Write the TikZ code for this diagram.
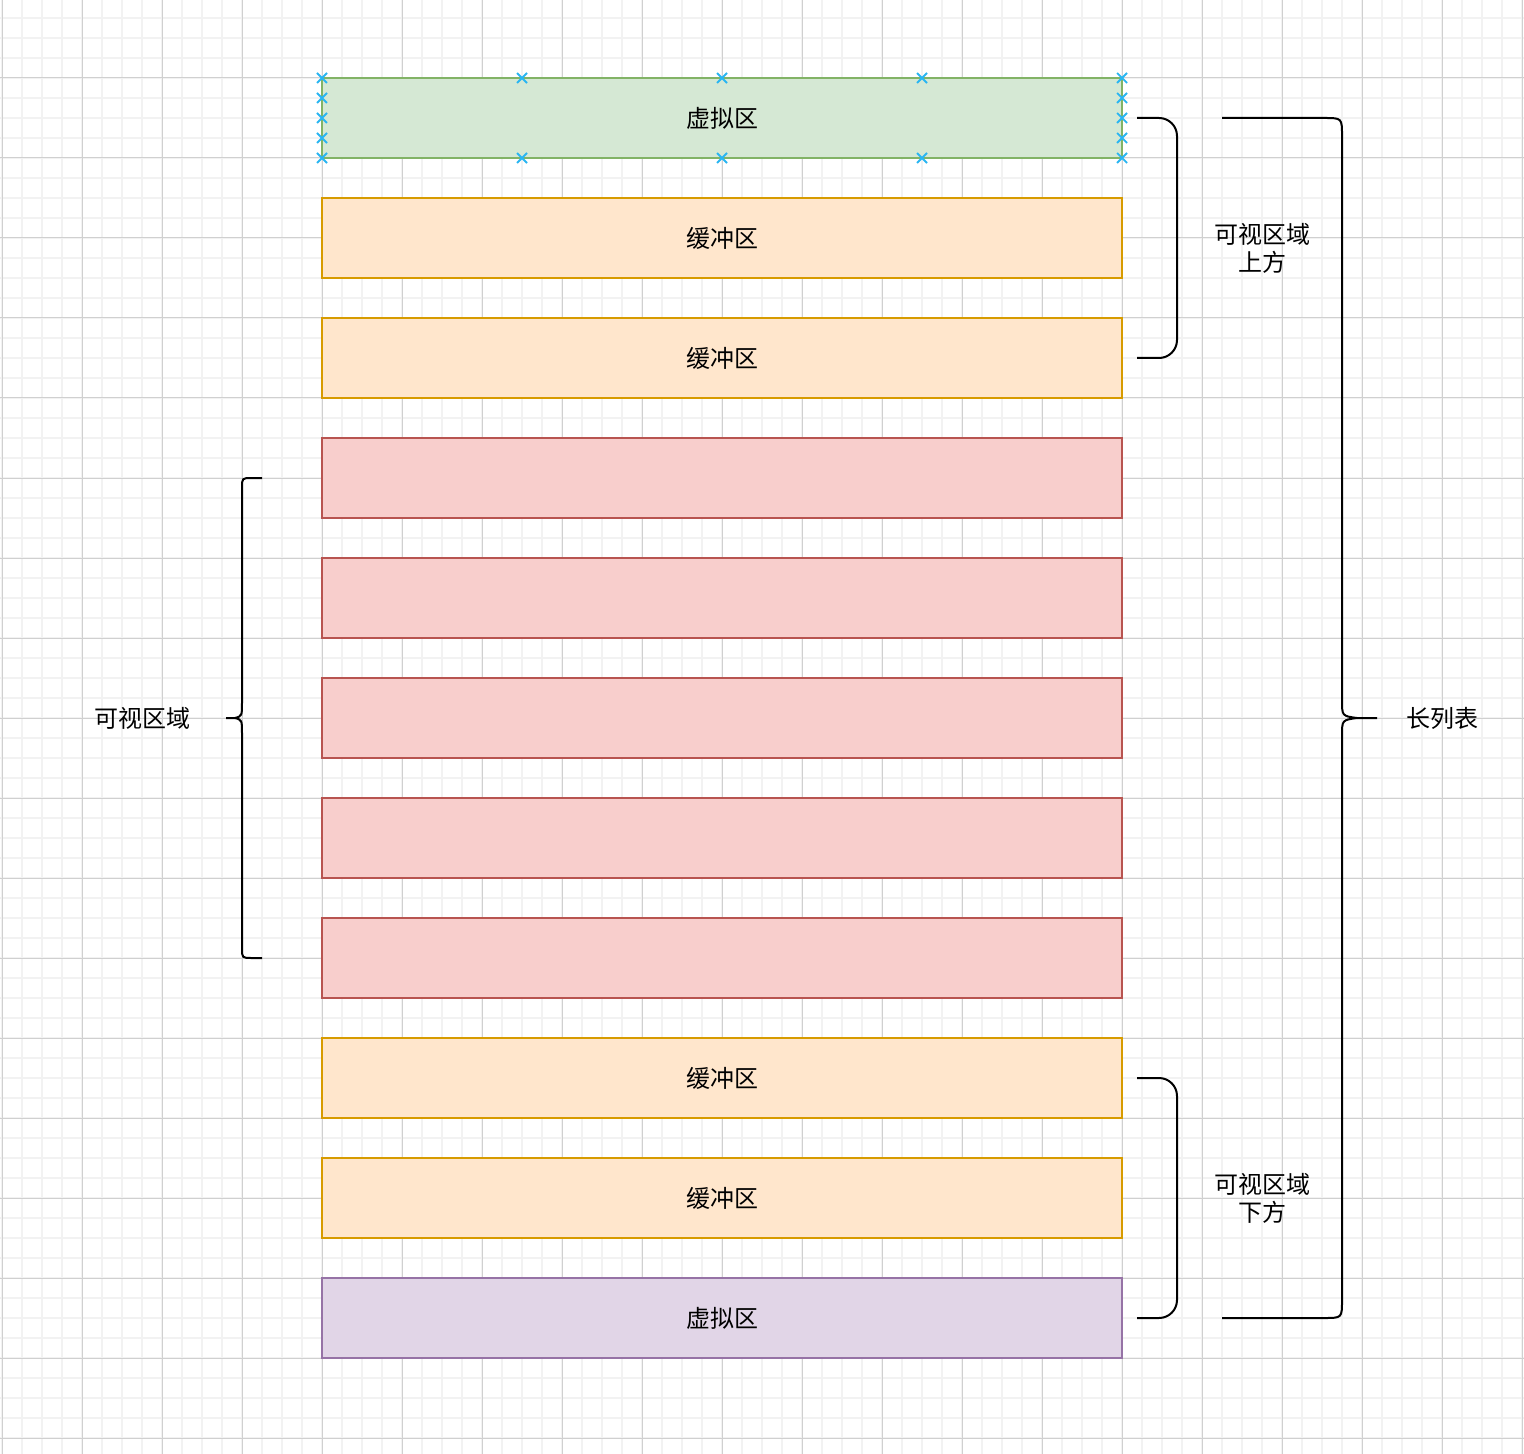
\documentclass[tikz,border=0pt]{standalone}
\usepackage{fontspec}
\setmainfont{Noto Sans CJK SC}
\usepackage{xcolor}
\usepackage{tikz}
\usetikzlibrary{shapes,arrows,positioning}

\definecolor{vgreenfill}{HTML}{D5E8D4}
\definecolor{vgreenline}{HTML}{82B366}
\definecolor{buffill}{HTML}{FFE6CC}
\definecolor{bufline}{HTML}{D79B00}
\definecolor{visfill}{HTML}{F8CECC}
\definecolor{visline}{HTML}{B85450}
\definecolor{vpurfill}{HTML}{E1D5E7}
\definecolor{vpurline}{HTML}{9673A6}
\definecolor{handle}{HTML}{29B6F2}
\definecolor{gridminor}{HTML}{F2F2F2}
\definecolor{gridmajor}{HTML}{D0D0D0}

\begin{document}
\begin{tikzpicture}[x=0.5pt, y=-0.5pt, node distance=60pt, font=\fontsize{12pt}{14pt}\selectfont]
    \tikzstyle{virtualtop} = [rectangle, draw=vgreenline, fill=vgreenfill, line width=1pt, minimum width=400pt, minimum height=40pt, inner sep=0pt]
    \tikzstyle{buffer} = [rectangle, draw=bufline, fill=buffill, line width=1pt, minimum width=400pt, minimum height=40pt, inner sep=0pt]
    \tikzstyle{visible} = [rectangle, draw=visline, fill=visfill, line width=1pt, minimum width=400pt, minimum height=40pt, inner sep=0pt]
    \tikzstyle{virtualbot} = [rectangle, draw=vpurline, fill=vpurfill, line width=1pt, minimum width=400pt, minimum height=40pt, inner sep=0pt]
    \tikzstyle{brace} = [line width=1pt, black]
    \tikzstyle{label} = [align=center, inner sep=0pt]
    \tikzstyle{cross} = [handle, line width=0.9pt]

    % Background and grid
    \fill[white] (0,0) rectangle (1524,1454);
    \useasboundingbox (0,0) rectangle (1524,1454);
    \foreach \x in {2,22,...,1522} \draw[gridminor, line width=1pt] (\x,0) -- (\x,1454);
    \foreach \y in {18,38,...,1454} \draw[gridminor, line width=1pt] (0,\y) -- (1524,\y);
    \foreach \x in {2,82,...,1522} \draw[gridmajor, line width=0.5pt] (\x,0) -- (\x,1454);
    \foreach \y in {78,158,...,1454} \draw[gridmajor, line width=0.5pt] (0,\y) -- (1524,\y);

    % List items - Vertical
    \node [virtualtop] (vtop) at (722,118) {虚拟区};
    \node [buffer, below of=vtop] (buf1) {缓冲区};
    \node [buffer, below of=buf1] (buf2) {缓冲区};
    \node [visible, below of=buf2] (vis1) {};
    \node [visible, below of=vis1] (vis2) {};
    \node [visible, below of=vis2] (vis3) {};
    \node [visible, below of=vis3] (vis4) {};
    \node [visible, below of=vis4] (vis5) {};
    \node [buffer, below of=vis5] (buf3) {缓冲区};
    \node [buffer, below of=buf3] (buf4) {缓冲区};
    \node [virtualbot, below of=buf4] (vbot) {虚拟区};

    % Handles on the selected item
    \foreach \x in {322,522,722,922,1122} {
        \draw[cross] (\x-5,73) -- (\x+5,83) (\x-5,83) -- (\x+5,73);
        \draw[cross] (\x-5,153) -- (\x+5,163) (\x-5,163) -- (\x+5,153);
    }
    \foreach \y in {98,118,138} {
        \draw[cross] (317,\y-5) -- (327,\y+5) (317,\y+5) -- (327,\y-5);
        \draw[cross] (1117,\y-5) -- (1127,\y+5) (1117,\y+5) -- (1127,\y-5);
    }

    % Braces
    \draw[brace, rounded corners=9pt] (1137,118) -- (1177,118) -- (1177,358) -- (1137,358);
    \draw[brace, rounded corners=9pt] (1137,1078) -- (1177,1078) -- (1177,1318) -- (1137,1318);
    \draw[brace] (1222,118) -- (1324,118) .. controls (1342,118) .. (1342,136) -- (1342,700)
        .. controls (1342,716) .. (1357,718) -- (1377,718);
    \draw[brace] (1357,718) .. controls (1342,720) .. (1342,736) -- (1342,1300)
        .. controls (1342,1318) .. (1324,1318) -- (1222,1318);
    \draw[brace] (262,478) -- (252,478) .. controls (242,478) .. (242,488) -- (242,702)
        .. controls (242,716) .. (235,718) -- (226,718);
    \draw[brace] (235,718) .. controls (242,720) .. (242,734) -- (242,948)
        .. controls (242,958) .. (252,958) -- (262,958);

    % Labels
    \node [label] (above) at (1262,248) {可视区域\\上方};
    \node [label] (below) at (1262,1198) {可视区域\\下方};
    \node [label] (whole) at (1442,718) {长列表};
    \node [label] (view) at (142,718) {可视区域};
\end{tikzpicture}
\end{document}
